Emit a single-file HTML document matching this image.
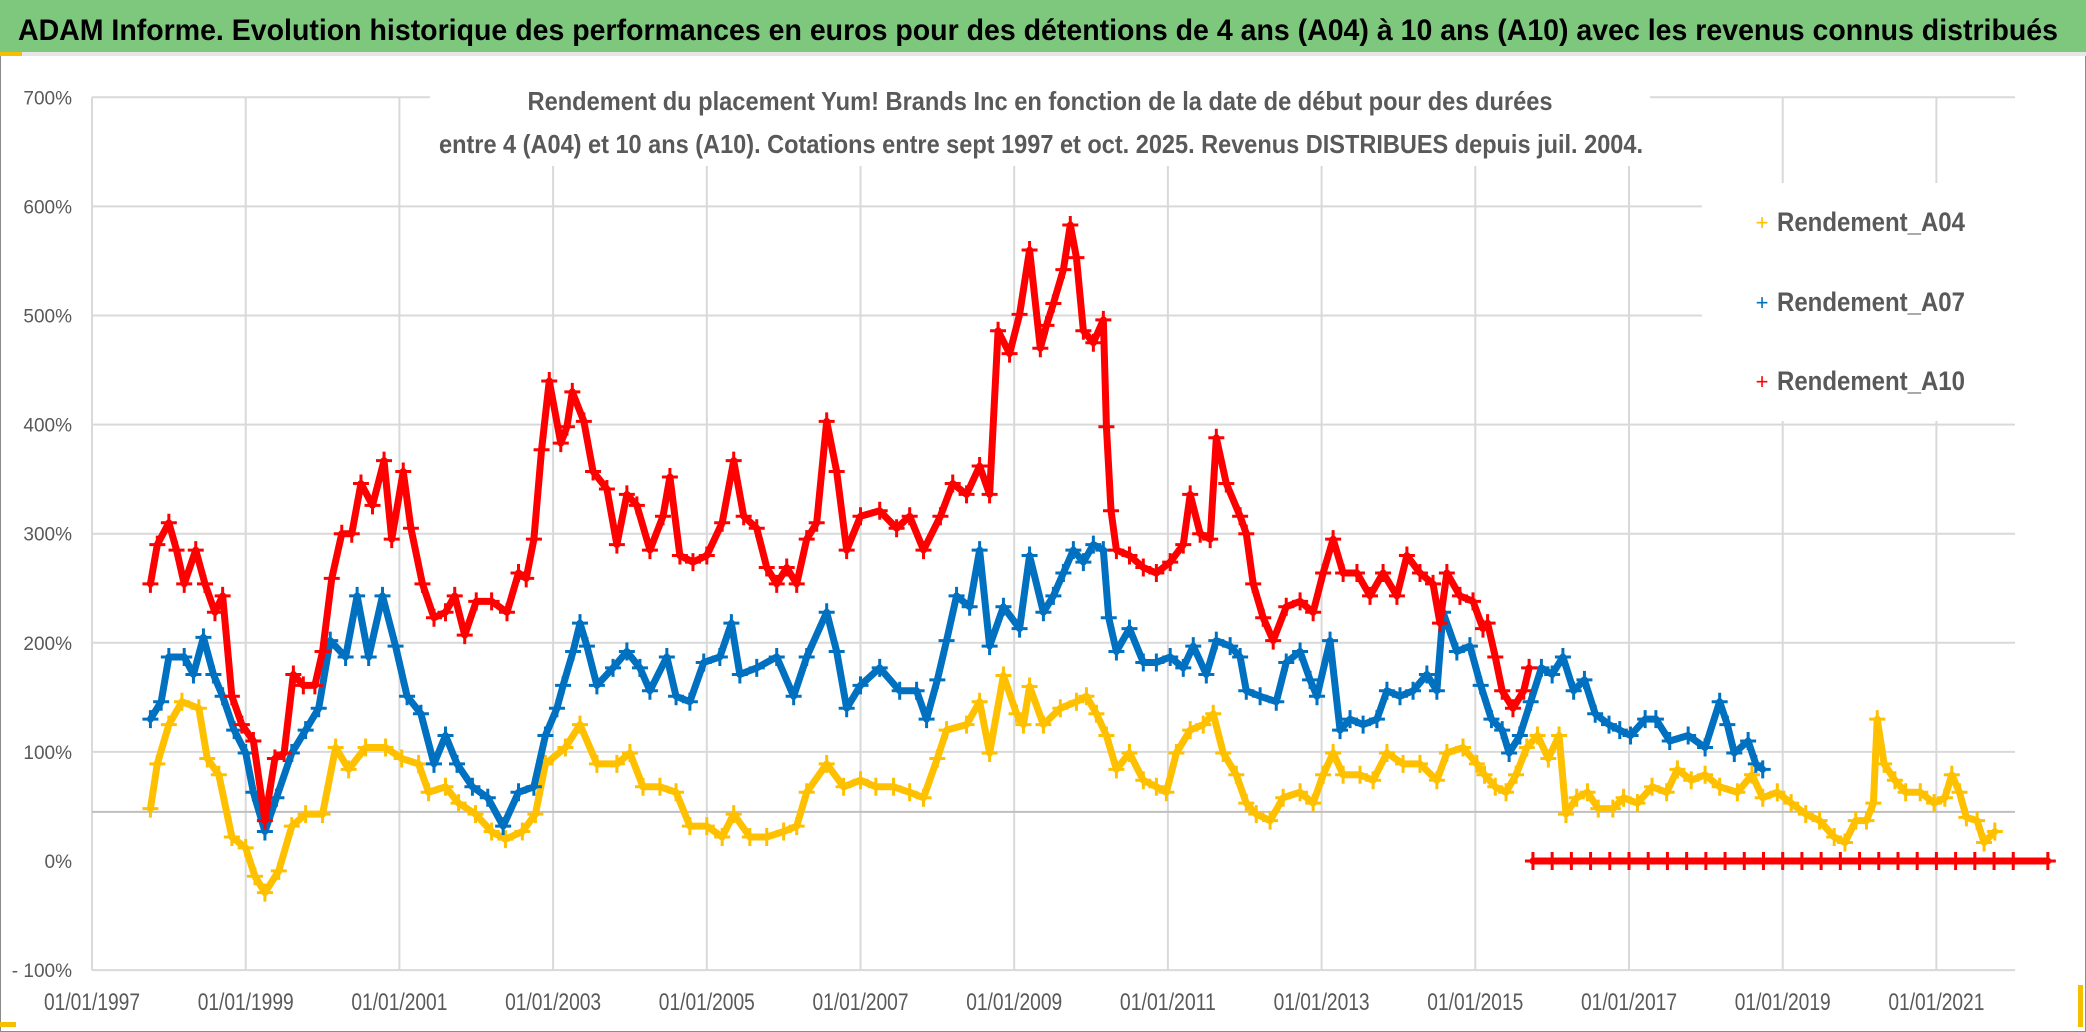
<!DOCTYPE html>
<html><head><meta charset="utf-8"><style>
html,body{margin:0;padding:0;background:#fff;}
svg{display:block;font-family:"Liberation Sans Narrow","Liberation Sans",sans-serif;}
</style></head><body>
<svg id="chart" width="2086" height="1032" viewBox="0 0 2086 1032">
<rect x="0.5" y="0.5" width="2085" height="1031" fill="#fff" stroke="#8c8c8c"/>
<rect x="0" y="0" width="2086" height="52" fill="#7ec87e"/>
<rect x="0" y="52" width="2086" height="4" fill="#e6e6e6"/>
<rect x="0" y="52" width="22" height="4" fill="#f5c000"/>
<text x="18" y="40" font-size="30" font-weight="bold" fill="#000" textLength="2040" lengthAdjust="spacingAndGlyphs">ADAM Informe. Evolution historique des performances en euros pour des détentions de 4 ans (A04) à 10 ans (A10) avec les revenus connus distribués</text>
<g id="grid"></g>
<g id="series"></g>
<rect x="430" y="60" width="1220" height="106" fill="#fff"/>
<text x="1040" y="110" font-size="26" font-weight="bold" fill="#595959" text-anchor="middle" textLength="1025" lengthAdjust="spacingAndGlyphs">Rendement du placement Yum! Brands Inc en fonction de la date de début pour des durées</text>
<text x="1041" y="153" font-size="26" font-weight="bold" fill="#595959" text-anchor="middle" textLength="1204" lengthAdjust="spacingAndGlyphs">entre 4 (A04) et 10 ans (A10). Cotations entre sept 1997 et oct. 2025. Revenus DISTRIBUES depuis juil. 2004.</text>
<rect x="1702" y="183" width="313" height="238" fill="#fff"/>
<g>
<text x="1762" y="230" font-size="22" fill="#ffc000" text-anchor="middle">+</text>
<text x="1777" y="231" font-size="27" font-weight="bold" fill="#595959" textLength="188" lengthAdjust="spacingAndGlyphs">Rendement_A04</text></g>
<g>
<text x="1762" y="310" font-size="22" fill="#0070c0" text-anchor="middle">+</text>
<text x="1777" y="311" font-size="27" font-weight="bold" fill="#595959" textLength="188" lengthAdjust="spacingAndGlyphs">Rendement_A07</text></g>
<g>
<text x="1762" y="389" font-size="22" fill="#ff0000" text-anchor="middle">+</text>
<text x="1777" y="390" font-size="27" font-weight="bold" fill="#595959" textLength="188" lengthAdjust="spacingAndGlyphs">Rendement_A10</text></g>
<g id="labels"></g>
<rect x="0" y="1022" width="16" height="5" fill="#f5c000"/>
<rect x="2078" y="985" width="5" height="42" fill="#f5c000"/>
</svg>
<script>
const yTicks = [700,600,500,400,300,200,100,0,-100];
const yTickLabels = ["700%","600%","500%","400%","300%","200%","100%","0%","- 100%"];
const xTicks = [1997,1999,2001,2003,2005,2007,2009,2011,2013,2015,2017,2019,2021];
const xTickLabels = ["01/01/1997","01/01/1999","01/01/2001","01/01/2003","01/01/2005","01/01/2007","01/01/2009","01/01/2011","01/01/2013","01/01/2015","01/01/2017","01/01/2019","01/01/2021"];
const axisCross = 45;

const a04Years = [1997.76,1997.85,1998.0,1998.17,1998.39,1998.5,1998.65,1998.82,1999.0,1999.12,1999.25,1999.43,1999.6,1999.78,2000.0,2000.17,2000.34,2000.56,2000.82,2001.03,2001.25,2001.38,2001.6,2001.77,2001.99,2002.2,2002.38,2002.6,2002.77,2002.9,2003.16,2003.35,2003.57,2003.83,2004.0,2004.17,2004.39,2004.6,2004.78,2005.0,2005.2,2005.35,2005.56,2005.78,2006.0,2006.17,2006.3,2006.56,2006.78,2007.0,2007.2,2007.43,2007.64,2007.82,2008.0,2008.12,2008.38,2008.55,2008.68,2008.86,2009.03,2009.12,2009.2,2009.38,2009.6,2009.81,2009.94,2010.07,2010.2,2010.33,2010.5,2010.68,2010.85,2010.98,2011.11,2011.29,2011.46,2011.59,2011.72,2011.89,2012.02,2012.15,2012.33,2012.5,2012.72,2012.89,2013.02,2013.15,2013.28,2013.5,2013.67,2013.85,2014.06,2014.28,2014.5,2014.63,2014.84,2015.02,2015.12,2015.26,2015.4,2015.53,2015.67,2015.81,2015.95,2016.09,2016.18,2016.32,2016.46,2016.6,2016.79,2016.93,2017.11,2017.3,2017.49,2017.63,2017.81,2017.99,2018.18,2018.41,2018.6,2018.74,2018.93,2019.11,2019.3,2019.48,2019.67,2019.81,2019.95,2020.09,2020.18,2020.23,2020.32,2020.46,2020.6,2020.79,2020.97,2021.11,2021.2,2021.3,2021.39,2021.53,2021.62,2021.76];
const a04Values = [48,89,125,146,140,94,79,22,12,-14,-29,-9,32,43,43,104,84,104,104,94,89,63,68,53,43,27,20,27,43,89,104,125,89,89,99,68,68,63,32,32,22,43,22,22,27,32,63,89,68,74,68,68,63,58,94,120,125,146,99,170,135,125,160,125,140,146,151,135,115,84,99,74,68,63,99,120,125,135,99,79,53,43,37,58,63,53,79,99,79,79,74,99,89,89,74,99,104,89,79,68,63,79,104,115,94,115,43,58,63,48,48,58,53,68,63,84,74,79,68,63,79,58,63,53,43,37,22,17,37,37,53,130,89,74,63,63,53,58,79,63,40,37,17,27];

const a07Years = [1997.76,1997.9,1998.0,1998.2,1998.32,1998.45,1998.58,1998.7,1998.85,1999.0,1999.1,1999.25,1999.4,1999.6,1999.78,1999.95,2000.1,2000.3,2000.45,2000.6,2000.78,2000.95,2001.1,2001.28,2001.45,2001.6,2001.75,2001.95,2002.15,2002.35,2002.55,2002.75,2002.9,2003.05,2003.13,2003.26,2003.35,2003.44,2003.57,2003.78,2003.96,2004.13,2004.26,2004.48,2004.6,2004.78,2004.96,2005.17,2005.32,2005.43,2005.65,2005.91,2006.13,2006.3,2006.56,2006.69,2006.82,2007.0,2007.25,2007.51,2007.73,2007.86,2008.0,2008.12,2008.25,2008.42,2008.55,2008.68,2008.86,2009.07,2009.2,2009.38,2009.51,2009.64,2009.77,2009.9,2010.03,2010.16,2010.23,2010.33,2010.5,2010.68,2010.85,2011.03,2011.2,2011.33,2011.5,2011.63,2011.81,2011.94,2012.02,2012.2,2012.41,2012.54,2012.72,2012.85,2012.94,2013.11,2013.24,2013.37,2013.54,2013.72,2013.85,2014.02,2014.19,2014.37,2014.5,2014.58,2014.76,2014.93,2015.07,2015.21,2015.35,2015.44,2015.58,2015.72,2015.86,2016.0,2016.14,2016.28,2016.42,2016.56,2016.74,2016.88,2017.02,2017.21,2017.35,2017.53,2017.77,2017.99,2018.18,2018.28,2018.37,2018.55,2018.65,2018.74];
const a07Values = [130,146,187,187,171,205,171,151,120,99,63,27,58,99,120,140,202,187,243,187,243,197,151,135,89,115,89,68,58,32,63,68,115,140,161,192,218,197,161,177,192,177,156,187,151,146,182,187,218,171,177,187,151,187,228,192,140,161,177,156,156,130,166,202,243,233,285,197,233,213,280,228,243,264,285,274,290,285,223,192,213,182,182,187,177,197,171,202,197,187,156,151,146,182,192,166,151,202,120,130,125,130,156,151,156,171,156,228,192,197,161,130,120,99,115,146,177,171,187,156,166,135,125,120,115,130,130,110,115,104,146,125,99,110,89,84];

const a10Years = [1997.76,1997.85,1998.0,1998.1,1998.2,1998.35,1998.47,1998.6,1998.7,1998.82,1998.95,1999.1,1999.25,1999.38,1999.5,1999.62,1999.75,1999.9,2000.0,2000.12,2000.25,2000.38,2000.5,2000.65,2000.8,2000.9,2001.05,2001.15,2001.3,2001.45,2001.6,2001.72,2001.85,2002.0,2002.2,2002.4,2002.55,2002.65,2002.75,2002.85,2002.95,2003.1,2003.18,2003.25,2003.4,2003.52,2003.7,2003.83,2003.96,2004.09,2004.26,2004.43,2004.52,2004.65,2004.82,2005.0,2005.2,2005.35,2005.48,2005.65,2005.78,2005.91,2006.04,2006.17,2006.3,2006.43,2006.56,2006.69,2006.82,2007.0,2007.25,2007.47,2007.64,2007.82,2008.04,2008.2,2008.38,2008.55,2008.68,2008.79,2008.94,2009.07,2009.2,2009.34,2009.42,2009.51,2009.64,2009.73,2009.81,2009.9,2010.03,2010.16,2010.2,2010.26,2010.33,2010.5,2010.68,2010.85,2011.03,2011.2,2011.29,2011.42,2011.55,2011.63,2011.76,2011.94,2012.02,2012.11,2012.24,2012.37,2012.54,2012.72,2012.89,2013.02,2013.15,2013.28,2013.46,2013.63,2013.8,2013.98,2014.11,2014.28,2014.45,2014.54,2014.63,2014.8,2014.97,2015.1,2015.16,2015.26,2015.35,2015.49,2015.63,2015.7];
const a10Values = [254,290,310,285,254,285,254,228,243,151,125,110,37,94,99,171,161,161,192,259,300,300,346,326,367,295,357,305,254,223,228,243,207,238,238,228,264,259,295,377,440,383,398,430,403,357,341,290,336,326,285,316,352,280,274,280,310,367,316,305,269,254,269,254,295,310,403,357,285,316,321,305,316,285,316,346,336,362,336,486,465,501,560,470,491,511,542,583,553,486,475,496,398,321,285,280,269,264,274,290,336,300,295,388,346,316,300,254,223,202,233,238,228,264,295,264,264,243,264,243,280,264,254,218,264,243,238,213,218,187,156,140,156,177];
const a10ZeroYears = [2015.75,2016.0,2016.25,2016.5,2016.75,2017.0,2017.25,2017.5,2017.75,2018.0,2018.25,2018.5,2018.75,2019.0,2019.25,2019.5,2019.75,2020.0,2020.25,2020.5,2020.75,2021.0,2021.25,2021.5,2021.75,2022.0,2022.45];
const a10ZeroValues = [0,0,0,0,0,0,0,0,0,0,0,0,0,0,0,0,0,0,0,0,0,0,0,0,0,0,0];

const X0 = 92, PXY = 76.85, Y0 = 861, PXV = 1.091;
function xs(yr){ return X0 + (yr - 1997) * PXY; }
function ys(v){ return Y0 - v * PXV; }
const NS = "http://www.w3.org/2000/svg";
const grid = document.getElementById('grid');
const labels = document.getElementById('labels');
const seriesG = document.getElementById('series');
const plotL = xs(1997), plotR = 2015;

yTicks.forEach((t,i)=>{
  if (t !== 0) {
    const l = document.createElementNS(NS,'line');
    
    
    l.setAttribute('x1', plotL); l.setAttribute('x2', plotR);
    l.setAttribute('y1', ys(t)); l.setAttribute('y2', ys(t));
    l.setAttribute('stroke', '#d9d9d9'); l.setAttribute('stroke-width', '2');
    grid.appendChild(l);
  }
  const tx = document.createElementNS(NS,'text');
  
  
  tx.setAttribute('x', 72); tx.setAttribute('y', ys(t) + 7);
  tx.setAttribute('text-anchor', 'end'); tx.setAttribute('font-size', '19');
  tx.setAttribute('fill', '#595959');
  tx.textContent = yTickLabels[i];
  labels.appendChild(tx);
});
xTicks.forEach((t,i)=>{
  const l = document.createElementNS(NS,'line');
  
  
  l.setAttribute('x1', xs(t)); l.setAttribute('x2', xs(t));
  l.setAttribute('y1', ys(700)); l.setAttribute('y2', ys(-100));
  l.setAttribute('stroke', '#d9d9d9'); l.setAttribute('stroke-width', '2');
  grid.appendChild(l);
  const tx = document.createElementNS(NS,'text');
  
  
  tx.setAttribute('x', xs(t)); tx.setAttribute('y', 1010);
  tx.setAttribute('text-anchor', 'middle'); tx.setAttribute('font-size', '24');
  tx.setAttribute('fill', '#595959');
  tx.setAttribute('textLength', '96'); tx.setAttribute('lengthAdjust', 'spacingAndGlyphs');
  tx.textContent = xTickLabels[i];
  labels.appendChild(tx);
});
const ax = document.createElementNS(NS,'line');


ax.setAttribute('x1', plotL); ax.setAttribute('x2', plotR);
ax.setAttribute('y1', ys(axisCross)); ax.setAttribute('y2', ys(axisCross));
ax.setAttribute('stroke', '#bfbfbf'); ax.setAttribute('stroke-width', '2');
grid.appendChild(ax);

function drawSeries(years, vals, color, name){
  const g = document.createElementNS(NS,'g');
  
  
  const pl = document.createElementNS(NS,'polyline');
  
  
  pl.setAttribute('points', years.map((y,i)=>xs(y)+','+ys(vals[i])).join(' '));
  pl.setAttribute('fill', 'none'); pl.setAttribute('stroke', color);
  pl.setAttribute('stroke-width', '7'); pl.setAttribute('stroke-linejoin', 'round');
  pl.setAttribute('stroke-linecap', 'round');
  g.appendChild(pl);
  years.forEach((y,i)=>{
    const p = document.createElementNS(NS,'path');
    
    
    const cx = xs(y), cy = ys(vals[i]);
    p.setAttribute('d', 'M'+(cx-8)+' '+cy+'H'+(cx+8)+'M'+cx+' '+(cy-9)+'V'+(cy+9));
    p.setAttribute('stroke', color); p.setAttribute('stroke-width', '3');
    g.appendChild(p);
  });
  seriesG.appendChild(g);
}
drawSeries(a04Years, a04Values, '#ffc000', 'series-a04');
drawSeries(a07Years, a07Values, '#0070c0', 'series-a07');
drawSeries(a10Years, a10Values, '#ff0000', 'series-a10');
drawSeries(a10ZeroYears, a10ZeroValues, '#ff0000', 'series-a10-zero');
</script>
</body></html>
